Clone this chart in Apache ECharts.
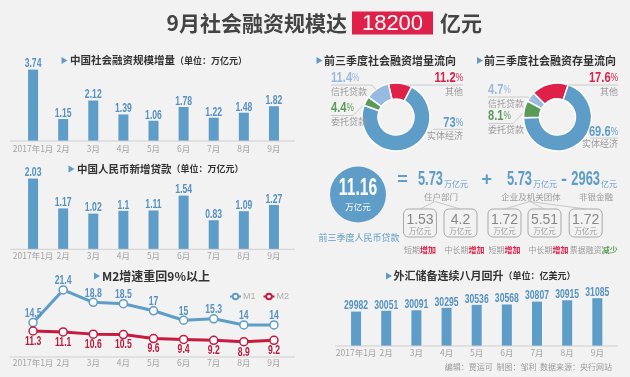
<!DOCTYPE html>
<html><head><meta charset="utf-8">
<script src="https://cdn.jsdelivr.net/npm/echarts@6/dist/echarts.min.js"></script>
<style>html,body{margin:0;padding:0;background:#f2f2f2;}#c{width:630px;height:377px;}</style>
</head><body><div id="c"></div>
<script>
// ---------------- data ----------------
const months = ['2017年1月','2月','3月','4月','5月','6月','7月','8月','9月'];
const socialFinancing = [3.74,1.15,2.12,1.39,1.06,1.78,1.22,1.48,1.82];
const newLoans = [2.03,1.17,1.02,1.1,1.11,1.54,0.83,1.09,1.27];
const m1Growth = [14.5,21.4,18.8,18.5,17,15,15.3,14,14];
const m2Growth = [11.3,11.1,10.6,10.5,9.6,9.4,9.2,8.9,9.2];
const fxReserves = [29982,30051,30091,30295,30536,30568,30807,30915,31085];
const flowNames = ['其他','实体经济','委托贷款','信托贷款'];
const flowIncrement = [11.2,73,4.4,11.4];
const flowStock = [17.6,69.6,8.1,4.7];
const loanTotal = 11.16;
const sectorNames = ['住户部门','企业及机关团体','非银金融'];
const sectorValues = [5.73,5.73,-2963];
const sectorUnits = ['万亿元','万亿元','亿元'];
const detailValues = [1.53,4.2,1.72,5.51,1.72];
const detailTerms = ['短期','中长期','短期','中长期','票据融资'];
const detailChange = ['增加','增加','增加','增加','减少'];
const headline = 18200;

// ---------------- style ----------------
const BLUE='#5e9dc8', RED='#df2149', LBLUE='#97bbe0', GREEN='#5a9c57', LBL='#5592c2', DRED='#be1a3d';
const NUMF="'Liberation Sans',Arial,sans-serif";
const CJK="'Noto Sans CJK SC','Noto Sans',sans-serif";
const pieColors = [RED, BLUE, GREEN, LBLUE];
const SQ = 0.72; // horizontal squeeze for condensed-looking numbers

const chart = echarts.init(document.getElementById('c'));

function xAx(i, margin){
  return {type:'category', gridIndex:i, data:months, axisLine:{show:false}, axisTick:{show:false},
    axisLabel:{color:'#a3a3a3', fontSize:8.5, fontFamily:CJK, margin:margin, interval:0}};
}
function yAx(i, min, max){
  return {type:'value', gridIndex:i, min:min, max:max, show:false, splitLine:{show:false}};
}

// ---------------- graphic helpers ----------------
const G = [];
function T(x,y,text,font,fill,align,extra,el){
  G.push(Object.assign({type:'text', x:x, y:y, silent:true, z:10,
    style:Object.assign({text:String(text), font:font, fill:fill, align:align||'left', verticalAlign:'middle'}, extra||{})}, el||{}));
}
function L(points,color,w){
  G.push({type:'polyline', silent:true, z:9, shape:{points:points}, style:{stroke:color||'#c4c4c4', lineWidth:w||1, fill:null}});
}
function TRI(x,y){
  G.push({type:'polygon', silent:true, shape:{points:[[x,y-3.5],[x+6,y],[x,y+3.5]]}, style:{fill:BLUE}});
}
function titleRich(x,y,main,unit,size){
  const rich = {a:{fontSize:size||10.5, fontWeight:'bold', fontFamily:CJK, fill:'#333'},
                b:{fontSize:9, fontWeight:'bold', fontFamily:CJK, fill:'#333'}};
  T(x,y, unit ? `{a|${main}}{b|${unit}}` : `{a|${main}}`, null, '#333','left',{rich:rich});
}

// main title
T(347, 23, '9月社会融资规模达', 'bold 21px '+CJK, '#444', 'right');
G.push({type:'rect', silent:true, shape:{x:352, y:11.5, width:81, height:23}, style:{fill:RED}});
T(392.5, 23.5, headline, '22px Liberation Sans, sans-serif', '#fff', 'center');
T(440, 23, '亿元', 'bold 21px '+CJK, '#444', 'left');

// panel titles
TRI(61.5,60.5); titleRich(70,60.5,'中国社会融资规模增量','（单位：万亿元）');
TRI(68.5,169); titleRich(77,169,'中国人民币新增贷款','（单位：万亿元）');
TRI(94,276); titleRich(102,276,'M2增速重回9%以上',null,12);
TRI(386,276); titleRich(393.5,276,'外汇储备连续八月回升','（单位：亿美元）',11);
TRI(316.5,60.5); titleRich(324,60.5,'前三季度社会融资增量流向',null,11);
TRI(477,60.5); titleRich(484,60.5,'前三季度社会融资存量流向',null,11);

// axis baselines
L([[10,141],[295,141]], '#cfcfcf');
L([[10,249.3],[295,249.3]], '#cfcfcf');
L([[10,357],[295,357]], '#cfcfcf');
L([[335,346],[618,346]], '#cfcfcf');

// pie annotations
const pie1Pos = [
  {side:'right', x:463, yn:78, ym:91.5, line:[[406,85],[463,85]]},
  {side:'right', x:463, yn:123, ym:135.5, line:[[433,129.3],[463,129.3]]},
  {side:'left', x:331, yn:108, ym:121.5, line:[[331,115.5],[353,115.5],[363,105.5]]},
  {side:'left', x:331, yn:78, ym:91.5, line:[[331,85],[372,85],[377,91]]}
];
const pie2Pos = [
  {side:'right', x:618, yn:78, ym:91.5, line:[[565,85],[618,85]]},
  {side:'right', x:618, yn:131.5, ym:143.5, line:[[590,138],[618,138]]},
  {side:'left', x:488, yn:116, ym:130, line:[[488,123.5],[513,123.5],[523,113]]},
  {side:'left', x:488, yn:90, ym:103.5, line:[[488,97],[528,97],[535,101]]}
];
function pieLabels(vals, pos){
  vals.forEach((v,i)=>{
    const p = pos[i], c = pieColors[i];
    L(p.line, '#c2c2c2', 0.8);
    T(p.x, p.yn, `{n|${v}}{p|%}`, null, c, p.side, {rich:{
      n:{fontSize:15.5, fontWeight:'bold', fontFamily:NUMF, fill:c},
      p:{fontSize:11.5, fontFamily:NUMF, fill:c}}}, {scaleX:0.72});
    T(p.x, p.ym, flowNames[i], '9px '+CJK, '#9a9a9a', p.side);
  });
}
pieLabels(flowIncrement, pie1Pos);
pieLabels(flowStock, pie2Pos);

// loan equation
G.push({type:'circle', silent:true, shape:{cx:358, cy:194.5, r:28}, style:{fill:BLUE}});
T(358, 188.5, loanTotal, 'bold 23px '+NUMF, '#fff', 'center', null, {scaleX:0.68});
T(358, 207, '万亿元', '8.5px '+CJK, '#fff', 'center');
T(359, 237.5, '前三季度人民币贷款', '9px '+CJK, BLUE, 'center');
const opX = [402.5, 486.7, 564];
const numRight = [443, 532, 600];
const secX = [441, 531, 596];
sectorValues.forEach((v,i)=>{
  const op = i===0 ? '=' : (v<0 ? '-' : '+');
  T(opX[i], 180, op, 'bold 18px '+NUMF, BLUE, 'center');
  T(numRight[i], 180, Math.abs(v), 'bold 19.5px '+NUMF, BLUE, 'right', null, {scaleX:0.66});
  T(numRight[i]+1, 184, sectorUnits[i], '8px '+CJK, BLUE, 'left');
  T(secX[i], 196.7, sectorNames[i], '8.5px '+CJK, '#9a9a9a', 'center');
});
const boxX = [420, 460.5, 504.5, 544.5, 585.7];
L([[420,209],[435,201.5],[460.5,209]], '#bdbdbd', 0.8);
L([[504.5,209],[530,201.5],[544.5,209]], '#bdbdbd', 0.8);
L([[530,201.5],[585.7,209]], '#bdbdbd', 0.8);
detailValues.forEach((v,i)=>{
  const cx = boxX[i];
  G.push({type:'rect', silent:true, shape:{x:cx-16.5, y:209, width:33, height:28, r:5},
    style:{fill:'none', stroke:'#a9a9a9', lineWidth:1}});
  T(cx, 220, v, '14px Liberation Sans, sans-serif', '#878787', 'center');
  T(cx, 231, '万亿元', '7.5px '+CJK, '#9a9a9a', 'center');
  const cc = detailChange[i]==='减少' ? GREEN : RED;
  T(cx-16, 249.5, `{t|${detailTerms[i]}}{c|${detailChange[i]}}`, null, '#999', 'left', {rich:{
    t:{fontSize:8, fontFamily:CJK, fill:'#9a9a9a'},
    c:{fontSize:8, fontFamily:CJK, fontWeight:'bold', fill:cc}}});
});

// footer
T(612, 366.5, '编辑：贾运可  制图：邹利  数据来源：央行网站', '8px '+CJK, '#9a9a9a', 'right');

// ---------------- option ----------------
const option = {
  backgroundColor:'#f2f2f2',
  animation:false,
  grid:[
    {left:18, top:64.6, width:271, height:76.4},
    {left:18, top:172.7, width:271, height:76.3},
    {left:18, top:280, width:271, height:77},
    {left:341, top:290, width:271.4, height:56}
  ],
  xAxis:[xAx(0,4), xAx(1,3), xAx(2,2), xAx(3,3)],
  yAxis:[yAx(0,0,4), yAx(1,0,2.2), yAx(2,7.23,23.51), yAx(2,5.47,22.74), yAx(3,27150,31759)],
  legend:{data:['M1','M2'], left:224, top:287, itemWidth:11, itemHeight:7, itemGap:7,
    textStyle:{fontSize:9, color:'#adadad', fontFamily:NUMF, padding:[0,0,0,-3]}},
  series:[
    {type:'bar', xAxisIndex:0, yAxisIndex:0, data:socialFinancing, barWidth:10, itemStyle:{color:BLUE}, silent:true},
    {type:'bar', xAxisIndex:1, yAxisIndex:1, data:newLoans, barWidth:10, itemStyle:{color:BLUE}, silent:true},
    {type:'line', name:'M1', xAxisIndex:2, yAxisIndex:2, data:m1Growth, symbol:'circle', symbolSize:8,
      lineStyle:{color:BLUE, width:3}, itemStyle:{color:'#fff', borderColor:BLUE, borderWidth:1.5}, silent:true},
    {type:'line', name:'M2', xAxisIndex:2, yAxisIndex:3, data:m2Growth, symbol:'circle', symbolSize:8,
      lineStyle:{color:'#c8193f', width:3}, itemStyle:{color:'#fff', borderColor:'#c8193f', borderWidth:1.5}, silent:true},
    {type:'bar', xAxisIndex:3, yAxisIndex:4, data:fxReserves, barWidth:10, itemStyle:{color:BLUE}, silent:true},
    {type:'pie', center:[396,117], radius:[18,34], startAngle:103, silent:true, label:{show:false}, labelLine:{show:false},
      itemStyle:{borderColor:'#fff', borderWidth:1.5},
      data:flowNames.map((n,i)=>({name:n, value:flowIncrement[i], itemStyle:{color:pieColors[i]}}))},
    {type:'pie', center:[557.5,117], radius:[18,34], startAngle:135, silent:true, label:{show:false}, labelLine:{show:false},
      itemStyle:{borderColor:'#fff', borderWidth:1.5},
      data:flowNames.map((n,i)=>({name:n, value:flowStock[i], itemStyle:{color:pieColors[i]}}))}
  ]
};
chart.setOption(option);

// value labels placed through the library's own scales, squeezed to look condensed
function valueLabels(seriesIndex, data, color, dy, va){
  data.forEach((v,i)=>{
    const p = chart.convertToPixel({seriesIndex:seriesIndex}, [i, v]);
    T(p[0], p[1]+dy, v, 'bold 12px '+NUMF, color, 'center', {verticalAlign:va}, {scaleX:SQ, z:12});
  });
}
valueLabels(0, socialFinancing, LBL, 0.5, 'bottom');
valueLabels(1, newLoans, LBL, 0.5, 'bottom');
valueLabels(2, m1Growth, LBL, -9, 'middle');
valueLabels(3, m2Growth, DRED, 10.5, 'middle');
valueLabels(4, fxReserves, LBL, 0.5, 'bottom');
chart.setOption({graphic:G});
</script></body></html>
